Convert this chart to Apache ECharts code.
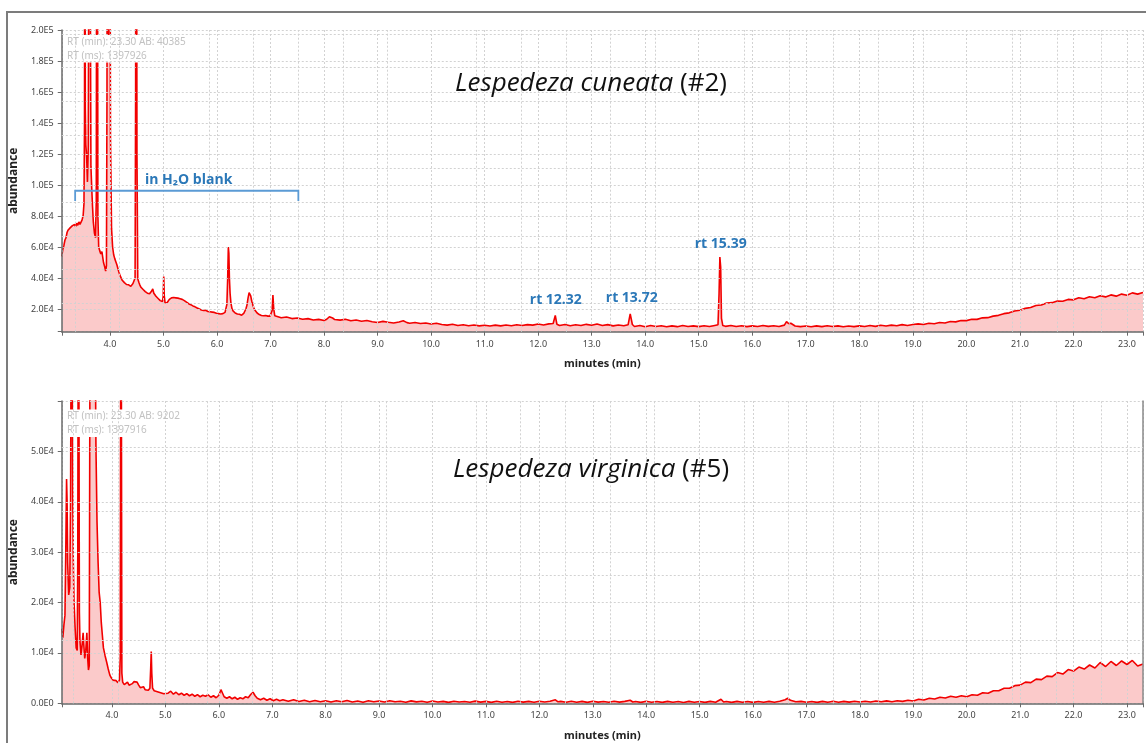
<!DOCTYPE html>
<html><head><meta charset="utf-8">
<script src="https://cdn.jsdelivr.net/npm/echarts@6/dist/echarts.min.js"></script>
<style>html,body{margin:0;padding:0;background:#fff;}#main{width:1146px;height:743px;}</style>
</head><body><div id="main"></div>
<script>
// ---- Data: [retention time (min), abundance] ----
const cuneataTrace = [
[3.10,54000],[3.12,58500],[3.14,61000],[3.16,64500],[3.18,66000],[3.20,69500],[3.22,71000],[3.24,69800],[3.26,72500],[3.28,71500],
[3.30,73800],[3.32,72600],[3.34,74500],[3.36,73200],[3.38,75400],[3.40,74000],[3.42,76200],[3.44,74600],[3.46,75800],[3.48,77500],
[3.50,80500],[3.515,88000],[3.525,140000],[3.532,420000],[3.54,150000],[3.55,126000],[3.565,118000],[3.58,102000],[3.595,125000],
[3.61,300000],[3.62,420000],[3.63,260000],[3.645,112000],[3.66,98000],[3.675,86000],[3.69,76000],[3.71,69000],[3.73,66000],
[3.745,90000],[3.755,400000],[3.765,380000],[3.775,80000],[3.79,60000],[3.81,57500],[3.83,55500],[3.85,57000],[3.865,53500],
[3.88,50000],[3.90,47500],[3.92,44500],[3.935,48000],[3.945,160000],[3.952,400000],[3.96,380000],[3.97,190000],[3.98,240000],
[3.99,410000],[3.998,360000],[4.01,130000],[4.03,72000],[4.05,60000],[4.07,55000],[4.09,52500],[4.11,50500],[4.13,48500],
[4.15,46000],[4.17,43500],[4.19,41500],[4.21,40500],[4.23,38500],[4.25,37800],[4.27,37000],[4.29,36200],[4.31,35800],[4.33,35200],
[4.35,35600],[4.37,34800],[4.39,34600],[4.41,35400],[4.43,36400],[4.45,37500],[4.47,40000],[4.48,160000],[4.487,420000],
[4.495,400000],[4.505,120000],[4.52,39500],[4.54,37200],[4.56,35400],[4.58,34000],[4.60,33200],[4.62,32600],[4.64,31800],
[4.66,31200],[4.68,30800],[4.70,30200],[4.72,30600],[4.74,29800],[4.76,30400],[4.78,31600],[4.80,33000],[4.82,30200],[4.84,29000],
[4.86,28200],[4.88,27400],[4.90,26800],[4.92,26200],[4.94,25400],[4.96,25000],[4.98,24800],[4.995,28000],[5.005,41000],
[5.015,28500],[5.03,24000],[5.05,23600],[5.07,24200],[5.09,25400],[5.11,26200],[5.13,26800],[5.15,27200],[5.17,27000],
[5.19,27400],[5.21,27600],[5.23,27200],[5.25,27500],[5.27,27000],[5.29,27200],[5.31,26600],[5.33,26800],[5.35,26200],[5.37,26000],
[5.39,25400],[5.41,25000],[5.43,24400],[5.45,24000],[5.47,23400],[5.49,23000],[5.51,22800],[5.53,22300],[5.55,22000],[5.57,21600],
[5.59,21400],[5.61,20800],[5.63,20600],[5.65,20200],[5.67,20000],[5.69,19800],[5.71,19400],[5.73,19600],[5.75,19000],[5.77,18800],
[5.79,19200],[5.81,18600],[5.83,18400],[5.85,18800],[5.87,18200],[5.89,17800],[5.91,18000],[5.93,17600],[5.95,17800],[5.97,17400],
[5.99,17200],[6.01,17600],[6.03,17000],[6.05,17200],[6.07,16800],[6.09,17400],[6.11,17000],[6.13,17200],[6.15,17800],[6.17,19000],
[6.185,23000],[6.20,40000],[6.212,60000],[6.222,56000],[6.232,40000],[6.245,30000],[6.26,24000],[6.28,20200],[6.30,18800],
[6.32,18000],[6.34,17400],[6.36,17000],[6.38,16800],[6.40,16400],[6.42,16600],[6.44,16200],[6.46,16000],[6.48,16400],[6.50,17200],
[6.52,18400],[6.54,20000],[6.56,22500],[6.58,27000],[6.60,30500],[6.615,31000],[6.63,28500],[6.65,25000],[6.67,22500],[6.69,20600],
[6.71,19200],[6.73,18200],[6.75,17400],[6.77,16800],[6.79,16400],[6.81,16000],[6.83,15800],[6.85,16200],[6.87,15600],[6.89,15400],
[6.91,15800],[6.93,15200],[6.95,15400],[6.97,15000],[6.99,15400],[7.01,15800],[7.03,19000],[7.045,29000],[7.06,20000],[7.08,15600],
[7.10,15000],[7.2,14400],[7.3,14800],[7.4,13800],[7.5,14200],[7.6,13400],[7.7,13800],[7.8,12900],[7.9,13300],[8.0,12600],
[8.05,13400],[8.1,15000],[8.13,15600],[8.16,14200],[8.2,13200],[8.3,12800],[8.4,13400],[8.5,12400],[8.6,12900],[8.7,12100],
[8.8,12600],[8.9,11800],[9.0,11300],[9.1,12000],[9.2,11400],[9.3,11000],[9.4,11600],[9.48,12400],[9.55,11200],[9.6,10800],
[9.7,11300],[9.8,10600],[9.9,11000],[10.0,10300],[10.1,10800],[10.2,10000],[10.3,9600],[10.4,10200],[10.5,9300],[10.6,9800],
[10.7,9200],[10.8,9700],[10.9,9100],[11.0,9500],[11.1,9000],[11.2,9600],[11.3,9100],[11.4,9700],[11.5,9200],[11.6,9800],
[11.7,9300],[11.8,9900],[11.9,9600],[12.0,10300],[12.1,9700],[12.2,10400],[12.28,10600],[12.32,15800],[12.35,10200],[12.4,9400],
[12.5,10000],[12.6,9200],[12.7,9800],[12.8,9300],[12.9,10100],[13.0,9500],[13.1,10300],[13.2,9400],[13.3,9900],[13.4,9100],
[13.5,9700],[13.6,9200],[13.68,9800],[13.72,16800],[13.76,10000],[13.8,8700],[13.9,9400],[14.0,8600],[14.1,9300],[14.2,8700],
[14.3,9200],[14.4,8500],[14.5,9100],[14.6,8600],[14.7,9300],[14.8,8700],[14.9,9100],[15.0,8600],[15.1,9200],[15.2,8700],
[15.3,9400],[15.36,9800],[15.38,30000],[15.395,53500],[15.41,47000],[15.425,14000],[15.45,9300],[15.5,8800],[15.6,9400],
[15.7,8700],[15.8,9200],[15.9,8600],[16.0,9100],[16.1,8700],[16.2,9300],[16.3,8800],[16.4,9200],[16.5,8700],[16.6,9600],
[16.64,11800],[16.68,10600],[16.72,10800],[16.8,9000],[16.9,8600],[17.0,9000],[17.1,8500],[17.2,9100],[17.3,8600],[17.4,9200],
[17.5,8700],[17.6,9100],[17.7,8500],[17.8,9000],[17.9,8600],[18.0,9100],[18.1,8700],[18.2,9300],[18.3,8800],[18.4,9500],
[18.5,9000],[18.6,9600],[18.7,9200],[18.8,9900],[18.9,9400],[19.0,10000],[19.1,10400],[19.2,10000],[19.3,10800],[19.4,10500],
[19.5,11300],[19.6,11000],[19.7,11900],[19.8,11700],[19.9,12600],[20.0,12500],[20.1,13400],[20.2,13300],[20.3,14300],[20.4,14400],
[20.5,15400],[20.6,15900],[20.7,17000],[20.8,17500],[20.9,18700],[21.0,19200],[21.1,20400],[21.2,21000],[21.3,22300],[21.4,22600],
[21.5,23900],[21.6,24100],[21.7,25200],[21.8,25000],[21.9,26200],[22.0,25900],[22.1,27200],[22.2,26600],[22.3,27900],[22.4,27200],
[22.5,28600],[22.6,27800],[22.7,29100],[22.8,28300],[22.9,29600],[23.0,28900],[23.1,30400],[23.2,29600],[23.3,30600]
];

const virginicaTrace = [
[3.06,14800],[3.08,13000],[3.10,15500],[3.12,17500],[3.135,30000],[3.15,44500],[3.16,40000],[3.17,28000],[3.19,21500],[3.21,23000],
[3.225,40000],[3.24,90000],[3.25,80000],[3.265,42000],[3.275,29000],[3.29,20000],[3.31,15000],[3.33,11000],[3.35,10500],[3.36,30000],
[3.37,90000],[3.38,70000],[3.39,18000],[3.40,12500],[3.42,9600],[3.44,11500],[3.46,14000],[3.47,12000],[3.49,8900],[3.51,10500],
[3.53,14000],[3.545,9000],[3.56,6600],[3.575,7500],[3.59,80000],[3.60,120000],[3.63,100000],[3.65,110000],[3.67,130000],[3.685,75000],
[3.70,51000],[3.72,36000],[3.74,28000],[3.76,22000],[3.78,20000],[3.80,16000],[3.82,13500],[3.84,11000],[3.87,9500],[3.90,8200],
[3.93,6800],[3.96,5600],[3.99,5000],[4.02,4600],[4.05,4300],[4.08,4500],[4.11,4100],[4.14,4600],[4.155,9000],[4.165,90000],
[4.175,70000],[4.185,6000],[4.20,4200],[4.23,3700],[4.26,3400],[4.29,4200],[4.32,3600],[4.35,3300],[4.38,3900],[4.41,4300],
[4.44,4600],[4.47,4200],[4.50,3600],[4.53,3100],[4.56,2900],[4.59,3300],[4.62,2700],[4.65,2900],[4.68,2600],[4.71,3000],
[4.725,7000],[4.735,10300],[4.745,6000],[4.76,3000],[4.79,2500],[4.82,2800],[4.85,2300],[4.88,2600],[4.91,2100],[4.94,2300],
[4.97,1900],[5.00,2200],[5.05,2000],[5.10,2400],[5.15,1800],[5.20,2200],[5.25,1700],[5.30,2000],[5.35,1600],[5.40,1900],
[5.45,1500],[5.50,1800],[5.55,1400],[5.60,1700],[5.65,1300],[5.70,1600],[5.75,1400],[5.80,1700],[5.85,1200],[5.90,1500],
[5.95,1100],[6.00,1600],[6.04,2700],[6.07,2000],[6.10,1300],[6.15,1000],[6.20,1300],[6.25,900],[6.30,1200],[6.35,800],
[6.40,1100],[6.45,900],[6.50,1300],[6.55,1100],[6.60,1800],[6.64,2200],[6.68,1500],[6.72,1000],[6.78,700],[6.84,1000],
[6.90,600],[6.96,900],[7.02,500],[7.08,800],[7.14,500],[7.20,700],[7.3,400],[7.4,700],[7.5,350],[7.6,600],
[7.7,300],[7.8,550],[7.9,300],[8.0,500],[8.1,250],[8.2,500],[8.3,300],[8.4,550],[8.5,250],[8.6,450],
[8.7,200],[8.8,500],[8.9,300],[9.0,450],[9.1,250],[9.2,500],[9.3,300],[9.4,420],[9.5,220],[9.6,480],
[9.7,280],[9.8,400],[9.9,200],[10.0,450],[10.1,250],[10.2,380],[10.3,180],[10.4,420],[10.5,260],[10.6,360],
[10.7,200],[10.8,430],[10.9,240],[11.0,380],[11.1,180],[11.2,400],[11.3,220],[11.4,350],[11.5,180],[11.6,420],
[11.7,240],[11.8,380],[11.9,200],[12.0,420],[12.1,260],[12.2,400],[12.3,700],[12.35,300],[12.4,380],[12.5,200],
[12.6,400],[12.7,220],[12.8,380],[12.9,180],[13.0,420],[13.1,240],[13.2,360],[13.3,200],[13.4,400],[13.5,230],
[13.6,380],[13.7,600],[13.75,260],[13.8,350],[13.9,180],[14.0,400],[14.1,220],[14.2,360],[14.3,180],[14.4,380],
[14.5,200],[14.6,350],[14.7,170],[14.8,380],[14.9,210],[15.0,360],[15.1,190],[15.2,380],[15.3,220],[15.4,800],
[15.45,250],[15.5,360],[15.6,180],[15.7,380],[15.8,200],[15.9,350],[16.0,190],[16.1,370],[16.2,200],[16.3,380],
[16.4,220],[16.5,420],[16.6,700],[16.65,1000],[16.7,600],[16.8,300],[16.9,380],[17.0,200],[17.1,360],[17.2,180],
[17.3,380],[17.4,220],[17.5,400],[17.6,200],[17.7,380],[17.8,230],[17.9,400],[18.0,260],[18.1,420],[18.2,250],
[18.3,450],[18.4,300],[18.5,480],[18.6,320],[18.7,520],[18.8,380],[18.9,600],[19.0,450],[19.1,800],[19.2,650],
[19.3,1000],[19.4,850],[19.5,1200],[19.6,1050],[19.7,1400],[19.8,1200],[19.9,1500],[20.0,1300],[20.1,1700],[20.2,1600],
[20.3,2100],[20.4,2000],[20.5,2500],[20.6,2500],[20.7,3000],[20.8,3000],[20.9,3500],[21.0,3600],[21.1,4200],[21.2,4100],
[21.3,4800],[21.4,4700],[21.5,5400],[21.6,5300],[21.7,6100],[21.8,5800],[21.9,6700],[22.0,6400],[22.1,7200],[22.2,6800],
[22.3,7600],[22.4,7000],[22.5,8100],[22.6,7300],[22.7,8300],[22.8,7500],[22.9,8400],[23.0,7700],[23.1,8500],[23.2,7400],[23.3,7800]
];

// Secondary (offset) grid of the instrument display
const cuneataSecondGridMin = [3.35,4.18,5.85,6.68,7.52,8.35,9.19,10.85,11.69,12.52,13.35,14.19,15.85,16.69,17.52,18.35,19.19,20.85,21.69,22.52];
const cuneataSecondGridAb = [23800,45500,67200,88900,110600,132300,154000,175700,197400];
const virginicaSecondGridMin = [3.28,4.12,5.79,6.63,7.46,8.30,9.14,10.81,11.64,12.48,13.32,14.15,15.83,16.66,17.50,18.34,19.17,20.85,21.68,22.52];
const virginicaSecondGridAb = [12600,25400,38100,50800];

// Annotations (data coordinates)
const peakLabels = [
  { text: 'rt 12.32', t: 12.33, v: 25800 },
  { text: 'rt 13.72', t: 13.75, v: 27100 },
  { text: 'rt 15.39', t: 15.41, v: 62200 }
];
const blankBracket = { text: 'in H\u2082O blank', t0: 3.35, t1: 7.52, v: 96300, vEnd: 89700, tText: 5.47, vText: 103200 };
const panelTitles = [
  { italic: 'Lespedeza cuneata', plain: '(#2)' },
  { italic: 'Lespedeza virginica', plain: '(#5)' }
];
const cursorTexts = [
  ['RT (min): 23.30 AB: 40385', 'RT (ms): 1397926'],
  ['RT (min): 23.30 AB: 9202', 'RT (ms): 1397916']
];

// ---- Styling helpers ----
const gridLineColor = '#d2d2d2';
const gridDash = [2, 2];
const axisColor = '#6a6a6a';
const labelFont = 'Noto Sans';
function sciFmt(v) { return v.toExponential(1).replace('e+', 'E').replace('e-', 'E-').toUpperCase(); }

function xAxisCfg(gridIndex, min, max) {
  return {
    type: 'value', gridIndex, min, max, splitNumber: 20, z: 3,
    name: 'minutes (min)', nameLocation: 'middle', nameGap: 27,
    nameTextStyle: { fontFamily: labelFont, fontWeight: 'bold', fontSize: 11, color: '#222' },
    axisLine: { show: true, onZero: false, lineStyle: { color: axisColor, width: 1.5 } },
    axisTick: { show: true, length: 4, lineStyle: { color: axisColor } },
    axisLabel: { fontFamily: labelFont, fontSize: 9, color: '#444', margin: 8, showMinLabel: true, showMaxLabel: true,
      formatter: v => (Math.abs(v - Math.round(v)) < 1e-6 ? v.toFixed(1) : '') },
    splitLine: { show: true, lineStyle: { color: gridLineColor, type: gridDash, width: 1 } }
  };
}
function yAxisCfg(gridIndex, min, max, step, splitNumber, hideTop) {
  return {
    type: 'value', gridIndex, min, max, splitNumber, z: 3,
    name: 'abundance', nameLocation: 'middle', nameGap: 40,
    nameTextStyle: { fontFamily: labelFont, fontWeight: 'bold', fontSize: 12, color: '#222' },
    axisLine: { show: true, lineStyle: { color: axisColor, width: 1.5 } },
    axisTick: { show: true, length: 4, lineStyle: { color: axisColor } },
    axisLabel: { fontFamily: labelFont, fontSize: 9, color: '#444', margin: 8,
      formatter: v => {
        const r = Math.round(v / step) * step;
        if (Math.abs(v - r) > 1) return '';
        if (hideTop && v >= max) return '';
        return sciFmt(v);
      } },
    splitLine: { show: true, lineStyle: { color: gridLineColor, type: gridDash, width: 1 } }
  };
}
function secondGrid(xs, ys) {
  return {
    silent: true, symbol: ['none', 'none'], animation: false,
    label: { show: false }, emphasis: { disabled: true },
    lineStyle: { color: gridLineColor, type: gridDash, width: 1 },
    data: xs.map(x => ({ xAxis: x })).concat(ys.map(y => ({ yAxis: y })))
  };
}
function traceSeries(idx, data, mark) {
  return {
    type: 'line', xAxisIndex: idx, yAxisIndex: idx, data, symbol: 'none', showSymbol: false,
    z: 1, clip: true, animation: false, silent: true,
    lineStyle: { color: '#f20000', width: 1.6 },
    areaStyle: { color: '#fbcaca', opacity: 1 },
    markLine: mark
  };
}

const chart = echarts.init(document.getElementById('main'), null, { renderer: 'canvas' });
const option = {
  animation: false,
  backgroundColor: '#ffffff',
  grid: [
    { left: 60, top: 30, right: -1, bottom: 411.3 },
    { left: 60, top: 401, right: 3, bottom: 39.7 }
  ],
  xAxis: [xAxisCfg(0, 3.10, 23.30), xAxisCfg(1, 3.06, 23.30)],
  yAxis: [
    yAxisCfg(0, 5350, 200000, 20000, 10, false),
    Object.assign(yAxisCfg(1, 0, 60000, 10000, 6, true), { interval: 10000 }),
    { type: 'value', gridIndex: 1, position: 'right', min: 0, max: 60000, z: 3,
      axisLine: { show: true, lineStyle: { color: '#8a8a8a', width: 1.5 } },
      axisTick: { show: false }, axisLabel: { show: false }, splitLine: { show: false } }
  ],
  series: [
    traceSeries(0, cuneataTrace, secondGrid(cuneataSecondGridMin, cuneataSecondGridAb)),
    traceSeries(1, virginicaTrace, secondGrid(virginicaSecondGridMin, virginicaSecondGridAb))
  ]
};
chart.setOption(option);

// ---- Overlays anchored through the chart's own scales ----
const blue = '#2b78b8';
const bracketBlue = '#5b9bd5';
const annFont = 'Open Sans';
const g = [];
// outer frame
g.push({ type: 'polyline', z: 20, silent: true, shape: { points: [[7, 743], [7, 12], [1146, 12]] },
  style: { stroke: '#7c7c7c', lineWidth: 2, fill: null } });
// cursor info boxes (cover the tall peaks like the instrument display)
[[61, 35, 27.5], [61, 409.5, 27.5]].forEach((b, i) => {
  g.push({ type: 'rect', z: 2, silent: true, shape: { x: b[0] + 1, y: b[1], width: 125, height: b[2] }, style: { fill: '#ffffff' } });
  g.push({ type: 'text', z: 20, silent: true, x: 67, y: b[1] + 7, style: { text: cursorTexts[i][0], fill: '#c2c2c2', font: '10px "Noto Sans"', textVerticalAlign: 'middle' } });
  g.push({ type: 'text', z: 20, silent: true, x: 67, y: b[1] + 21, style: { text: cursorTexts[i][1], fill: '#c2c2c2', font: '10px "Noto Sans"', textVerticalAlign: 'middle' } });
});
// panel titles
[[591, 84], [591, 470]].forEach((p, i) => {
  g.push({ type: 'text', z: 20, silent: true, x: p[0], y: p[1], style: {
    text: '{i|' + panelTitles[i].italic + '\u00a0}{n|' + panelTitles[i].plain + '}',
    align: 'center', verticalAlign: 'middle', textAlign: 'center', textVerticalAlign: 'middle',
    rich: { i: { fontStyle: 'italic', fontSize: 26, fontFamily: annFont, fill: '#111', color: '#111' },
            n: { fontSize: 26, fontFamily: annFont, fill: '#111', color: '#111' } } } });
});
// peak labels
peakLabels.forEach(p => {
  const [x, y] = chart.convertToPixel({ seriesIndex: 0 }, [p.t, p.v]);
  g.push({ type: 'text', z: 20, silent: true, x, y, style: { text: p.text, fill: blue, font: 'bold 14px "Open Sans"', textAlign: 'center', textVerticalAlign: 'middle' } });
});
// blank bracket
{
  const a = chart.convertToPixel({ seriesIndex: 0 }, [blankBracket.t0, blankBracket.vEnd]);
  const b = chart.convertToPixel({ seriesIndex: 0 }, [blankBracket.t0, blankBracket.v]);
  const c = chart.convertToPixel({ seriesIndex: 0 }, [blankBracket.t1, blankBracket.v]);
  const d = chart.convertToPixel({ seriesIndex: 0 }, [blankBracket.t1, blankBracket.vEnd]);
  g.push({ type: 'polyline', z: 20, silent: true, shape: { points: [a, b, c, d] }, style: { stroke: bracketBlue, lineWidth: 1.8, fill: null } });
  const tp = chart.convertToPixel({ seriesIndex: 0 }, [blankBracket.tText, blankBracket.vText]);
  g.push({ type: 'text', z: 20, silent: true, x: tp[0], y: tp[1], style: { text: blankBracket.text, fill: blue, font: 'bold 14px "Open Sans"', textAlign: 'center', textVerticalAlign: 'middle' } });
}
chart.setOption({ graphic: { elements: g } });
</script>
</body></html>
